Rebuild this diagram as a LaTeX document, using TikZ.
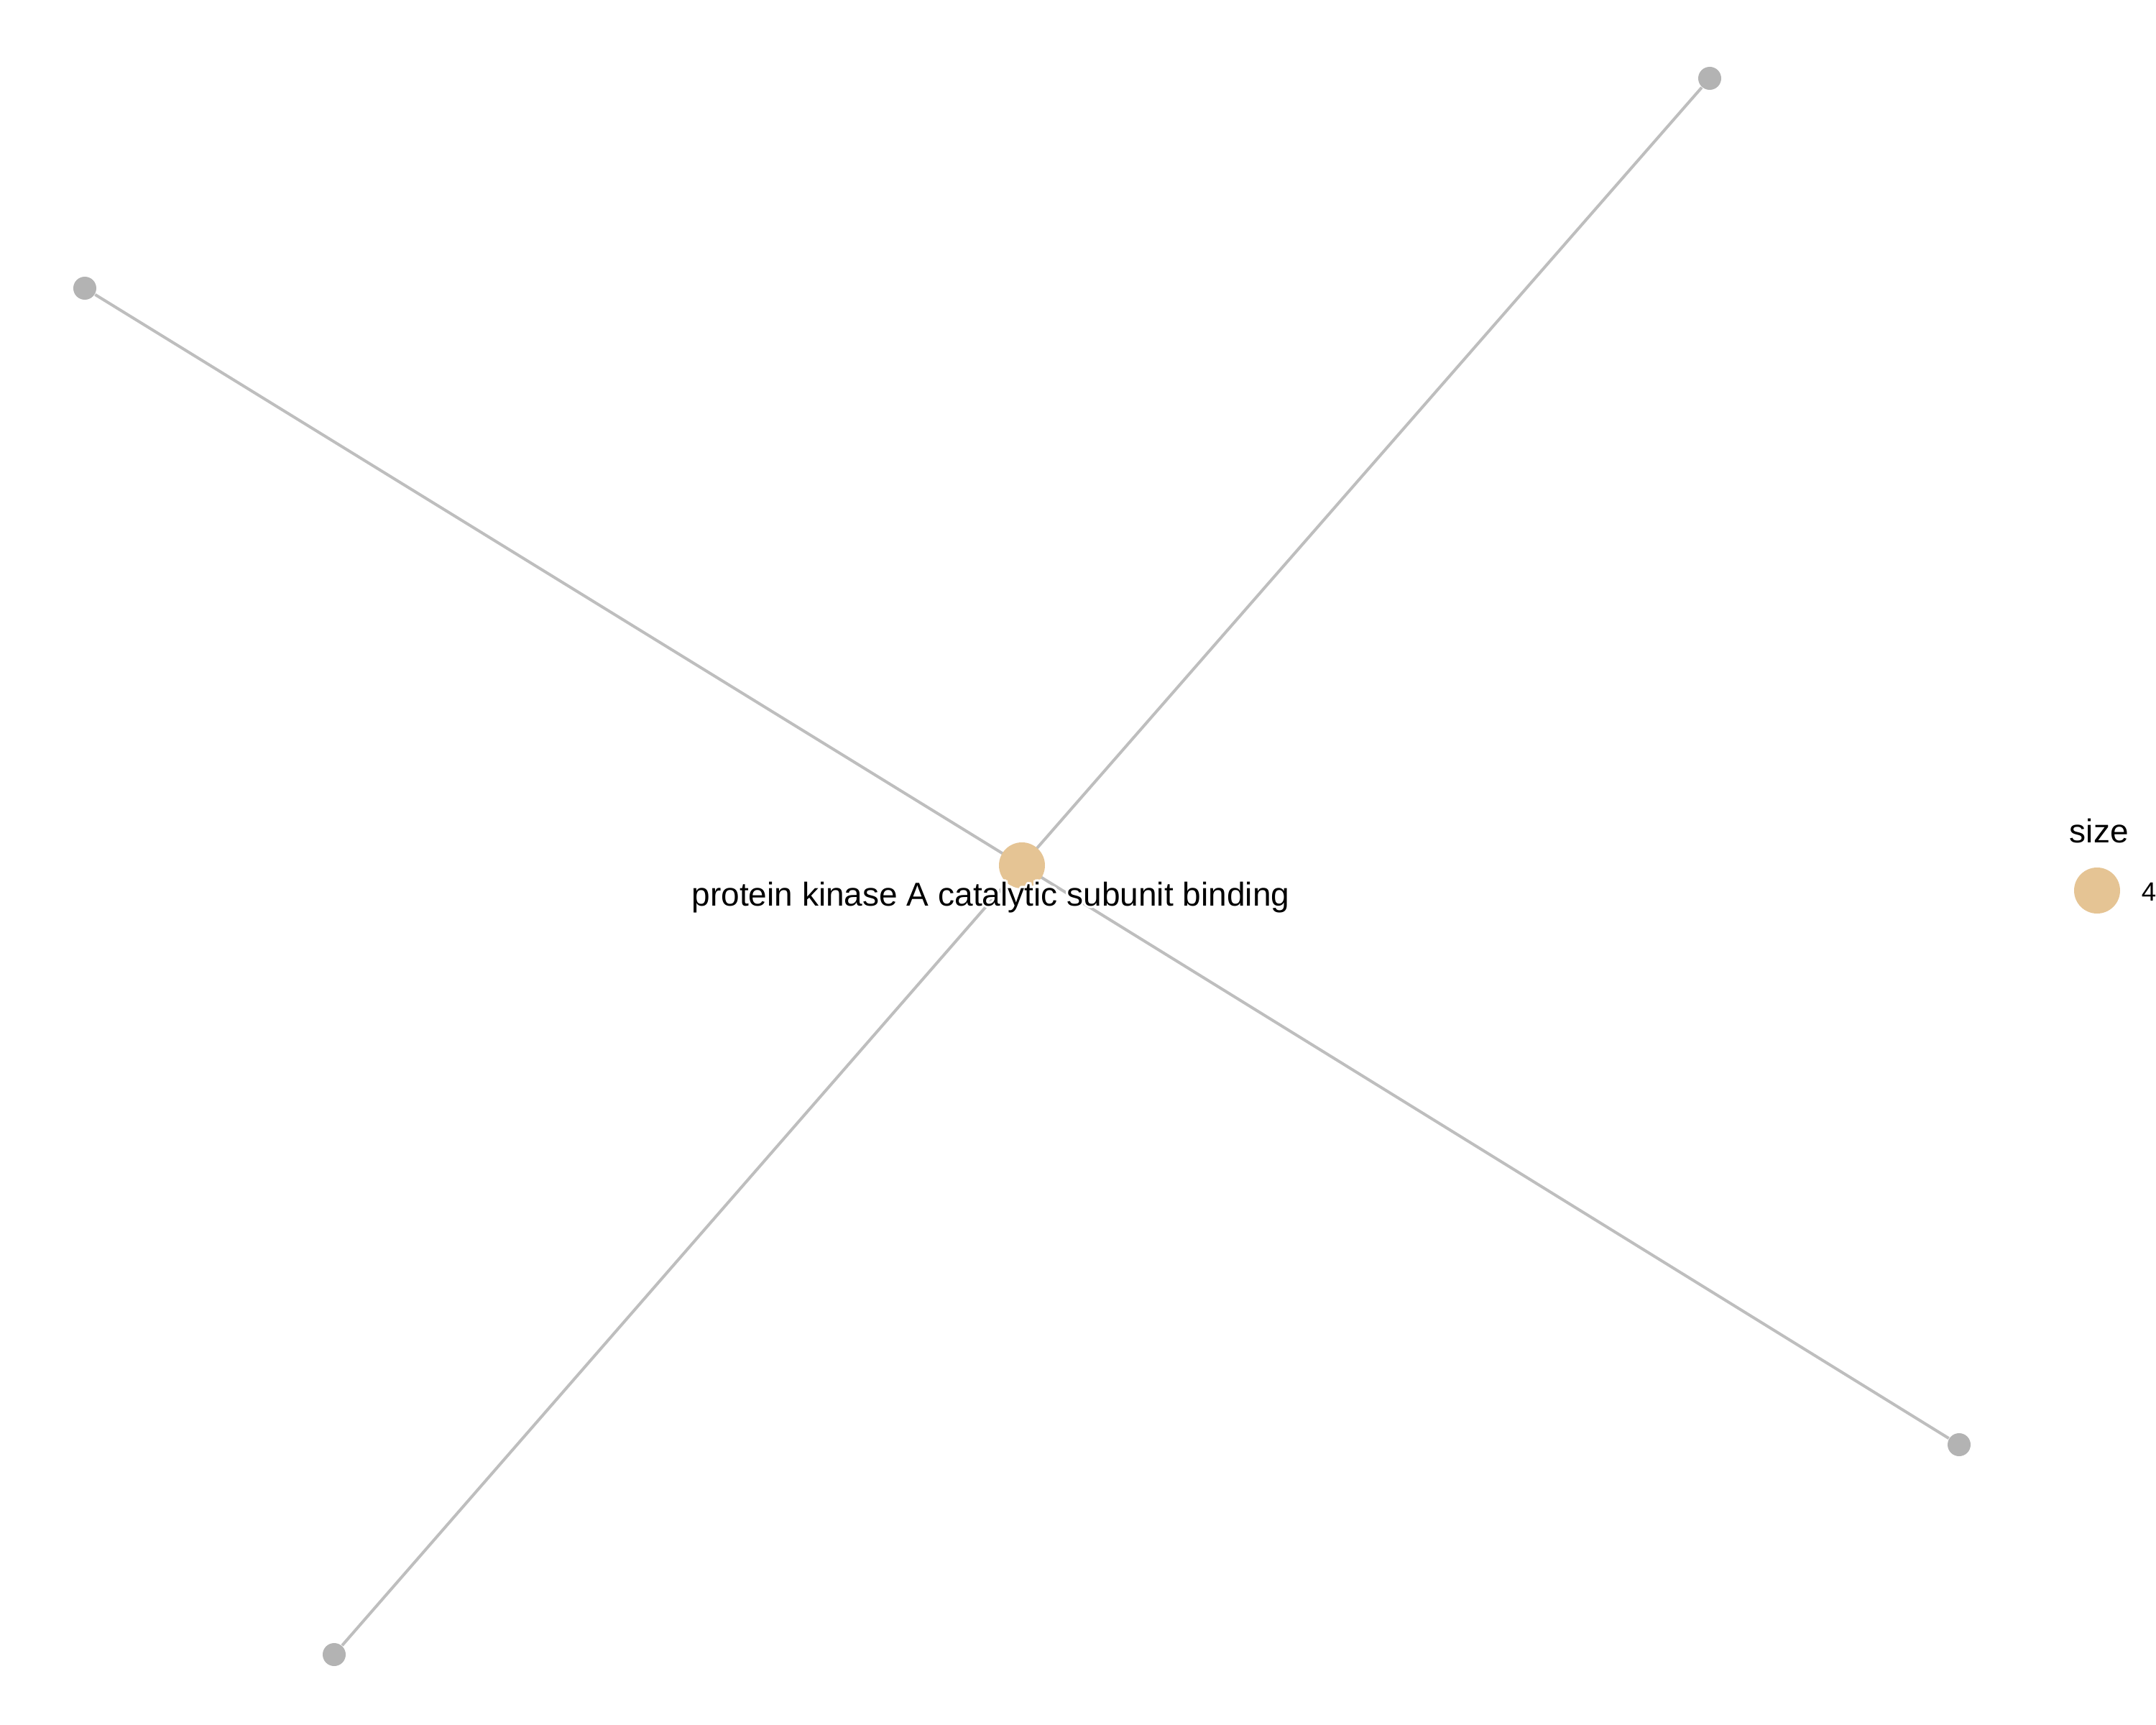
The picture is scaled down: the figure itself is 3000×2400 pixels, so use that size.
\documentclass[tikz,border=0pt]{standalone}
\usepackage{fontspec}
\setmainfont{Liberation Sans}
\usepackage{tikz}
\usetikzlibrary{positioning}
\usetikzlibrary{calc}
\tikzset{circ/.style = {fill = mgray, circle, inner sep = 0, minimum size = 7.68pt}}
\tikzset{bigcirc/.style = {fill = mtan, circle, inner sep = 0, minimum size = 15.36pt}}
\tikzset{edge/.style = {draw = medge, line width = 0.96pt}}
\tikzset{lbl/.style = {inner sep = 0, anchor = base, font = \fontsize{11.05}{13}\selectfont}}
\definecolor{mgray}{HTML}{B3B3B3}
\definecolor{medge}{HTML}{BEBEBE}
\definecolor{mtan}{HTML}{E5C494}

\begin{document}
\begin{tikzpicture}[x = 0.24pt, y = -0.24pt]
      \useasboundingbox [fill = white] (0, 0) rectangle (3000, 2400);
      \node [circ] (nw) at (118, 401) {};
      \node [circ] (ne) at (2379, 109) {};
      \node [circ] (sw) at (465, 2302) {};
      \node [circ] (se) at (2726, 2010) {};
      \coordinate (mid) at (1422, 1204);
      \draw [edge] (mid) -- (nw);
      \draw [edge] (mid) -- (ne);
      \draw [edge] (mid) -- (sw);
      \draw [edge] (mid) -- (se);
      \node [bigcirc] (pka) at (mid) {};
      \foreach \a in {0, 30, ..., 330}
        \node [lbl, white] at ($(1378.5, 1260) + (\a:3)$) {protein kinase A catalytic subunit binding};
      \node [lbl] (pkalbl) at (1378.5, 1260) {protein kinase A catalytic subunit binding};
      % legend
      \node [lbl, anchor = base west] (sizettl) at (2879, 1172) {size};
      \node [bigcirc] (sizekey) at (2918, 1239) {};
      \node [lbl, anchor = base west, font = \fontsize{8.8}{10}\selectfont] (sizeval) at (2979, 1253) {4};
    \end{tikzpicture}
\end{document}
